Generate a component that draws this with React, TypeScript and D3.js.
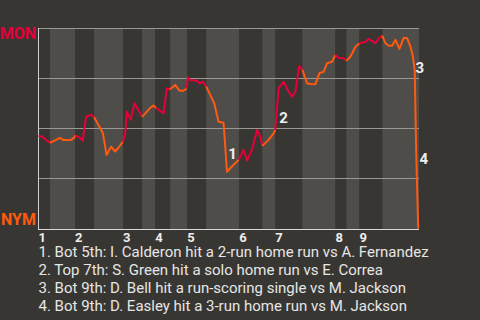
import React from "react";
import * as d3 from "d3";

// Half-inning start times (game-progress units); even index = top (MON bats), odd = bottom (NYM bats)
const halfInningStarts = [0, 5.75, 18.25, 27.75, 42.25, 51.75, 58.25, 65.75, 74.25, 83.75, 100.25, 111.75, 118.25, 131.75, 148.25, 153.75, 160.25, 171.75];
const gameEnd = 190;
const inningLabels = ["1", "2", "3", "4", "5", "6", "7", "8", "9"];

// Event times and MON win probability after each event
const eventTime = [
  0, 1.75, 5.75, 8.75, 10.75, 12.25, 16.25, 17.75, 18.4, 20.4,
  22.1, 23.75, 26.25, 27.75, 30.4, 32.1, 34, 36.25, 38.25, 40,
  42.1, 43.25, 44.1, 46.1, 47.9, 49.9, 51.75, 54.1, 55.75, 57.4,
  58.75, 60.75, 62.4, 64.1, 65.5, 68.25, 70.4, 72.4, 74, 74.6,
  75.75, 79.1, 80.4, 82.1, 83.75, 85.75, 87.75, 89.9, 92.4, 93.25,
  94.1, 95.75, 98.25, 100, 102.4, 104.1, 106.6, 109.1, 110.75, 111.75,
  114.9, 117.4, 118.25, 119.9, 122.4, 124.9, 126.6, 128.25, 130.25, 131.75,
  134.1, 135.75, 138.25, 140.25, 142.4, 144.1, 146.6, 148.25, 149.9, 152.4,
  153.75, 155.75, 158.25, 160.25, 163.25, 164.9, 166.6, 168.25, 169.9, 171.6,
  173.25, 174.9, 176.6, 178.25, 180.25, 182.4, 184.1, 185.75, 186.9, 187.9,
  188.25, 188.6, 189.1, 189.6,
];
const monWinProb = [
  0.463, 0.46, 0.428, 0.443, 0.453, 0.443, 0.443, 0.453, 0.466, 0.456,
  0.439, 0.559, 0.569, 0.556, 0.509, 0.479, 0.368, 0.409, 0.385, 0.405,
  0.433, 0.468, 0.584, 0.543, 0.626, 0.593, 0.558, 0.584, 0.603, 0.615,
  0.603, 0.588, 0.576, 0.701, 0.695, 0.718, 0.689, 0.689, 0.7, 0.756,
  0.743, 0.739, 0.726, 0.734, 0.709, 0.668, 0.626, 0.534, 0.529, 0.409,
  0.284, 0.301, 0.326, 0.343, 0.393, 0.339, 0.393, 0.493, 0.459, 0.413,
  0.443, 0.476, 0.493, 0.701, 0.734, 0.684, 0.659, 0.684, 0.813, 0.793,
  0.726, 0.723, 0.721, 0.776, 0.784, 0.826, 0.834, 0.868, 0.854, 0.851,
  0.838, 0.859, 0.909, 0.925, 0.934, 0.948, 0.938, 0.926, 0.951, 0.964,
  0.926, 0.914, 0.914, 0.943, 0.898, 0.954, 0.951, 0.909, 0.864, 0.784,
  0.568, 0.383, 0.193, 0,
];

// Annotated plays: marker, anchor time and probability
const noteMarks = ["1", "2", "3", "4"];
const noteTime = [94.75, 120.25, 188.25, 190.25];
const noteProb = [0.348, 0.529, 0.776, 0.323];
const noteTexts = [
  "1. Bot 5th: I. Calderon hit a 2-run home run vs A. Fernandez",
  "2. Top 7th: S. Green hit a solo home run vs E. Correa",
  "3. Bot 9th: D. Bell hit a run-scoring single vs M. Jackson",
  "4. Bot 9th: D. Easley hit a 3-run home run vs M. Jackson",
];
const teams = ["MON", "NYM"];
const gridProbs = [1, 0.75, 0.5, 0.25];

const BG = "#383632";
const BAND = "#4e4d4a";
const RED = "#e6003a";
const ORANGE = "#ff5a0e";
const FONT = "Roboto, sans-serif";

export default function App() {
  const W = 480, H = 320;
  const x = d3.scaleLinear().domain([0, gameEnd]).range([38.5, 419]);
  const y = d3.scaleLinear().domain([0, 1]).range([228.5, 28.5]);

  const pts = eventTime.map((t, i) => [t, monWinProb[i]] as [number, number]);
  const halfOf = (t: number) => d3.bisectRight(halfInningStarts, t) - 1;

  // group segments into runs by half-inning parity
  const runs: { color: string; pts: [number, number][] }[] = [];
  for (let i = 1; i < pts.length; i++) {
    const mid = (pts[i - 1][0] + pts[i][0]) / 2;
    const h = halfOf(mid);
    const color = h % 2 === 0 ? RED : ORANGE;
    const last = runs[runs.length - 1];
    if (last && last.color === color) last.pts.push(pts[i]);
    else runs.push({ color, pts: [pts[i - 1], pts[i]] });
  }
  const line = d3.line<[number, number]>().x((d) => x(d[0])).y((d) => y(d[1]));

  const bands = halfInningStarts.map((s, i) => ({
    s,
    e: i + 1 < halfInningStarts.length ? halfInningStarts[i + 1] : gameEnd,
    top: i % 2 === 0,
  }));

  return (
    <div style={{ position: "fixed", left: 0, top: 0, width: W, height: H, background: BG }}>
      <svg width={W} height={H} style={{ display: "block" }}>
        <rect x={0} y={0} width={W} height={H} fill={BG} />
        {bands.map((b, i) => (
          <rect key={i} x={x(b.s)} y={28} width={x(b.e) - x(b.s)} height={201} fill={b.top ? BG : BAND} />
        ))}
        {gridProbs.map((g, i) => (
          <line key={i} x1={38.5} x2={419} y1={Math.floor(y(g)) + 0.5} y2={Math.floor(y(g)) + 0.5} stroke="#9a9894" strokeWidth={1} />
        ))}
        <line x1={38.5} x2={38.5} y1={28} y2={230} stroke="#cfcfcf" strokeWidth={1} />
        <line x1={38} x2={419} y1={229.5} y2={229.5} stroke="#d8d8d8" strokeWidth={1} />
        {runs.map((r, i) => (
          <path key={i} d={line(r.pts) || ""} fill="none" stroke={r.color} strokeWidth={2} strokeLinejoin="round" />
        ))}
        {noteMarks.map((m, i) => (
          <text key={i} x={x(noteTime[i])} y={y(noteProb[i])} fill="#eeeeee" fontFamily={FONT} fontWeight="bold" fontSize={15}>
            {m}
          </text>
        ))}
        <text x={36} y={39.3} textAnchor="end" fill={RED} fontFamily={FONT} fontWeight="bold" fontSize={16}>{teams[0]}</text>
        <text x={36} y={225} textAnchor="end" fill={ORANGE} fontFamily={FONT} fontWeight="bold" fontSize={16}>{teams[1]}</text>
        {inningLabels.map((l, i) => (
          <text key={i} x={x(halfInningStarts[i * 2])} y={242} fill="#eeeeee" fontFamily={FONT} fontWeight="bold" fontSize={13}>
            {l}
          </text>
        ))}
        {noteTexts.map((t, i) => (
          <text key={i} x={38.5} y={257.3 + i * 18} fill="#e6e6e6" fontFamily={FONT} fontSize={15}>
            {t}
          </text>
        ))}
      </svg>
    </div>
  );
}
